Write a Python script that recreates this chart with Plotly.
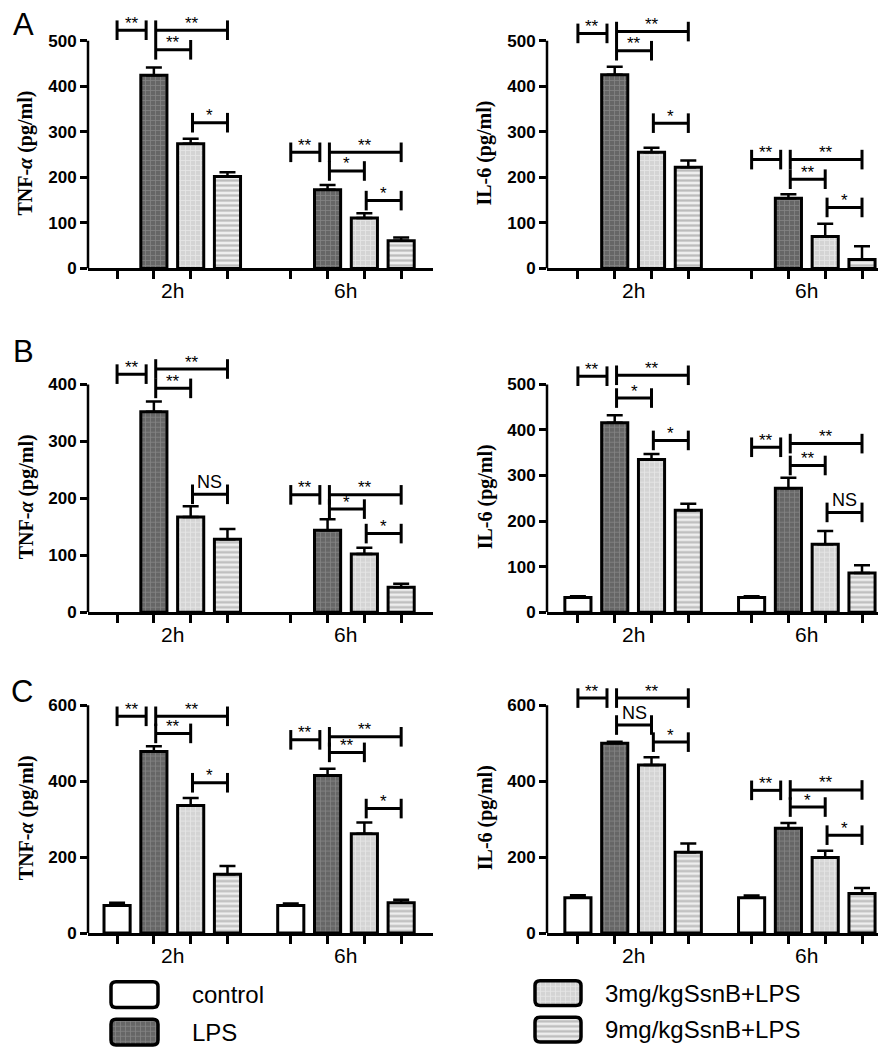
import plotly.graph_objects as go

W, H = 886, 1050

GROUPS = ["2h", "6h"]
SERIES = ["control", "LPS", "3mg/kgSsnB+LPS", "9mg/kgSsnB+LPS"]

# ---- data: [group][series] ----
A_TNF_MEAN = [[None, 424, 274, 202], [None, 173, 111, 61]]
A_TNF_ERR = [[0, 17, 11, 9], [0, 10, 10, 7]]
A_IL6_MEAN = [[None, 425, 255, 222], [None, 154, 70, 20]]
A_IL6_ERR = [[0, 18, 10, 15], [0, 9, 28, 29]]
B_TNF_MEAN = [[None, 352, 167, 128], [None, 144, 102, 44]]
B_TNF_ERR = [[0, 18, 19, 18], [0, 19, 11, 6]]
B_IL6_MEAN = [[32, 416, 335, 224], [32, 272, 149, 86]]
B_IL6_ERR = [[3, 16, 12, 14], [3, 23, 29, 17]]
C_TNF_MEAN = [[73, 478, 336, 155], [73, 415, 262, 80]]
C_TNF_ERR = [[7, 14, 20, 22], [5, 18, 29, 8]]
C_IL6_MEAN = [[93, 500, 443, 213], [93, 276, 199, 104]]
C_IL6_ERR = [[7, 4, 20, 23], [6, 14, 18, 15]]

# significance brackets: (group, from series, to series, y value, label)
A_TNF_SIG = [(0, 0, 1, 523, "**"), (0, 1, 3, 523, "**"), (0, 1, 2, 480, "**"), (0, 2, 3, 320, "*"),
             (1, 0, 1, 255, "**"), (1, 1, 3, 255, "**"), (1, 1, 2, 214, "*"), (1, 2, 3, 149, "*")]
A_IL6_SIG = [(0, 0, 1, 516, "**"), (0, 1, 3, 520, "**"), (0, 1, 2, 478, "**"), (0, 2, 3, 319, "*"),
             (1, 0, 1, 239, "**"), (1, 1, 3, 239, "**"), (1, 1, 2, 196, "**"), (1, 2, 3, 134, "*")]
B_TNF_SIG = [(0, 0, 1, 418, "**"), (0, 1, 3, 427, "**"), (0, 1, 2, 393, "**"), (0, 2, 3, 207, "NS"),
             (1, 0, 1, 206, "**"), (1, 1, 3, 206, "**"), (1, 1, 2, 181, "*"), (1, 2, 3, 138, "*")]
B_IL6_SIG = [(0, 0, 1, 518, "**"), (0, 1, 3, 520, "**"), (0, 1, 2, 470, "*"), (0, 2, 3, 377, "*"),
             (1, 0, 1, 362, "**"), (1, 1, 3, 370, "**"), (1, 1, 2, 322, "**"), (1, 2, 3, 219, "NS")]
C_TNF_SIG = [(0, 0, 1, 571, "**"), (0, 1, 3, 571, "**"), (0, 1, 2, 526, "**"), (0, 2, 3, 396, "*"),
             (1, 0, 1, 509, "**"), (1, 1, 3, 517, "**"), (1, 1, 2, 476, "**"), (1, 2, 3, 328, "*")]
C_IL6_SIG = [(0, 0, 1, 619, "**"), (0, 1, 3, 619, "**"), (0, 1, 2, 548, "NS"), (0, 2, 3, 503, "*"),
             (1, 0, 1, 376, "**"), (1, 1, 3, 377, "**"), (1, 1, 2, 332, "*"), (1, 2, 3, 258, "*")]

Y_TITLE_TNF = "TNF-<i>α</i> (pg/ml)"
Y_TITLE_IL6 = "IL-6 (pg/ml)"

# ---- styling ----
SANS = "Liberation Sans, Arial, sans-serif"
SERIF = "Liberation Serif, Times New Roman, serif"
GROUP_GAP = 4.72
BAR_W = 0.71
PX_PER_UNIT = 36.8

MARKERS = [
    dict(color="white", line=dict(color="black", width=3)),
    dict(color="#6a6a6a", line=dict(color="black", width=3),
         pattern=dict(shape="+", bgcolor="#666666", fgcolor="#a2a2a2", size=5, solidity=0.3)),
    dict(color="#dadada", line=dict(color="black", width=3),
         pattern=dict(shape="+", bgcolor="#d4d4d4", fgcolor="#f6f6f6", size=5, solidity=0.3)),
    dict(color="#dddddd", line=dict(color="black", width=3),
         pattern=dict(shape="-", bgcolor="#eeeeee", fgcolor="#8a8a8a", size=5, solidity=0.45)),
]

# panel layout in pixels: (zero px, top px), column (axis px, right px)
ROWS = [(263, 0), (610, 340), (934, 672)]
COLS = [(80, 425, -0.79), (539, 886, -0.84)]

panels = [
    dict(row=0, col=0, mean=A_TNF_MEAN, err=A_TNF_ERR, sig=A_TNF_SIG, ymax=500, step=100, title=Y_TITLE_TNF, letter="A"),
    dict(row=0, col=1, mean=A_IL6_MEAN, err=A_IL6_ERR, sig=A_IL6_SIG, ymax=500, step=100, title=Y_TITLE_IL6, letter=None),
    dict(row=1, col=0, mean=B_TNF_MEAN, err=B_TNF_ERR, sig=B_TNF_SIG, ymax=400, step=100, title=Y_TITLE_TNF, letter="B"),
    dict(row=1, col=1, mean=B_IL6_MEAN, err=B_IL6_ERR, sig=B_IL6_SIG, ymax=500, step=100, title=Y_TITLE_IL6, letter=None),
    dict(row=2, col=0, mean=C_TNF_MEAN, err=C_TNF_ERR, sig=C_TNF_SIG, ymax=600, step=200, title=Y_TITLE_TNF, letter="C"),
    dict(row=2, col=1, mean=C_IL6_MEAN, err=C_IL6_ERR, sig=C_IL6_SIG, ymax=600, step=200, title=Y_TITLE_IL6, letter=None),
]
LETTER_POS = {"A": (15, 17), "B": (15, 347), "C": (14, 690)}


def pos(g, s):
    return g * GROUP_GAP + s


fig = go.Figure()
annotations = []
shapes = []
layout = {}

for k, p in enumerate(panels, start=1):
    xa, ya = f"x{k}", f"y{k}"
    xkey = "xaxis" if k == 1 else f"xaxis{k}"
    ykey = "yaxis" if k == 1 else f"yaxis{k}"
    xref = "x" if k == 1 else xa
    yref = "y" if k == 1 else ya
    zero_px, top_px = ROWS[p["row"]]
    ax_px, right_px, xstart = COLS[p["col"]]
    ytop = p["ymax"] * (zero_px - top_px) / 230.0
    xend = xstart + (right_px - ax_px) / PX_PER_UNIT

    for s, name in enumerate(SERIES):
        fig.add_trace(go.Bar(
            x=[pos(g, s) for g in range(len(GROUPS))],
            y=[p["mean"][g][s] for g in range(len(GROUPS))],
            width=BAR_W,
            marker=MARKERS[s],
            error_y=dict(type="data", symmetric=False,
                         array=[p["err"][g][s] for g in range(len(GROUPS))],
                         arrayminus=[0] * len(GROUPS),
                         color="black", thickness=2.5, width=8),
            name=name, showlegend=False, xaxis=xref, yaxis=yref,
        ))

    for (g, i, j, yv, lab) in p["sig"]:
        xs = pos(g, i) + (0.0 if i == 0 else 0.05)
        xe = pos(g, j) - (0.21 if i == 0 else 0.0)
        fig.add_trace(go.Scatter(
            x=[xs, xe], y=[yv, yv], mode="lines+markers",
            line=dict(color="black", width=3),
            marker=dict(symbol="line-ns", size=14, line=dict(color="black", width=3)),
            showlegend=False, hoverinfo="skip", cliponaxis=False,
            xaxis=xref, yaxis=yref,
        ))
        is_ns = lab == "NS"
        annotations.append(dict(
            x=(xs + xe) / 2, y=yv, xref=xref, yref=yref, text=lab, showarrow=False,
            yanchor="middle", yshift=12 if is_ns else 7,
            font=dict(family=SANS, size=18 if is_ns else 17, color="black"),
        ))

    tickpos = [pos(g, s) for g in range(len(GROUPS)) for s in range(len(SERIES))]
    layout[xkey] = dict(
        domain=[ax_px / W, right_px / W], range=[xstart, xend], anchor=yref,
        showline=True, linecolor="black", linewidth=2.5, mirror=False,
        ticks="outside", tickvals=tickpos, ticktext=[""] * len(tickpos),
        ticklen=8, tickwidth=2.5, tickcolor="black",
        showgrid=False, zeroline=False, fixedrange=True,
    )
    layout[ykey] = dict(
        domain=[1 - zero_px / H, 1 - top_px / H], range=[0, ytop], anchor=xref,
        showline=False, ticks="outside", ticklen=7, tickwidth=2.5, tickcolor="black",
        tickvals=list(range(0, p["ymax"] + 1, p["step"])),
        tickfont=dict(family=SANS, size=17, color="black", weight="bold"),
        showgrid=False, zeroline=False, fixedrange=True,
    )
    shapes.append(dict(type="line", xref=f"{xref} domain", yref=yref, x0=0, x1=0,
                       y0=0, y1=p["ymax"], line=dict(color="black", width=2.5)))

    for g, gname in enumerate(GROUPS):
        annotations.append(dict(
            x=pos(g, 1.5), y=0, xref=xref, yref=f"{yref} domain", text=gname,
            showarrow=False, yanchor="middle", yshift=-22,
            font=dict(family=SANS, size=21, color="black"),
        ))

    annotations.append(dict(
        x=(ax_px - 62) / W, y=1 - (zero_px - 116) / H, xref="paper", yref="paper",
        text=p["title"], textangle=-90, showarrow=False,
        xanchor="center", yanchor="middle",
        font=dict(family=SERIF, size=20, color="black", weight="bold"),
    ))
    if p["letter"]:
        lx, ly = LETTER_POS[p["letter"]]
        annotations.append(dict(
            x=lx / W, y=1 - ly / H, xref="paper", yref="paper", text=p["letter"],
            showarrow=False, xanchor="center", yanchor="middle",
            font=dict(family=SANS, size=31, color="black"),
        ))

# ---- legend (drawn in an auxiliary pixel-space axis) ----
LEG_TOP = 965
LEG_BOXES = [(103, 983, 150, 1009), (103, 1021, 150, 1047), (527, 982, 573, 1007), (527, 1019, 573, 1044)]
LEG_TEXT_X = [182, 182, 595, 595]
for s, name in enumerate(SERIES):
    x0, y0, x1, y1 = LEG_BOXES[s]
    mk = dict(MARKERS[s])
    mk["line"] = dict(width=0)
    fig.add_trace(go.Bar(
        x=[(x0 + x1) / 2], y=[y1 - y0 - 2], base=[y0 + 1], width=[x1 - x0 - 2],
        marker=mk, showlegend=False, hoverinfo="skip", xaxis="x7", yaxis="y7",
    ))
    r = 5
    path = (f"M {x0 + r},{y0} L {x1 - r},{y0} Q {x1},{y0} {x1},{y0 + r} "
            f"L {x1},{y1 - r} Q {x1},{y1} {x1 - r},{y1} L {x0 + r},{y1} "
            f"Q {x0},{y1} {x0},{y1 - r} L {x0},{y0 + r} Q {x0},{y0} {x0 + r},{y0} Z")
    shapes.append(dict(type="path", path=path, xref="x7", yref="y7",
                       line=dict(color="black", width=3.5)))
    annotations.append(dict(
        x=LEG_TEXT_X[s], y=(y0 + y1) / 2, xref="x7", yref="y7", text=name,
        showarrow=False, xanchor="left", yanchor="middle",
        font=dict(family=SANS, size=24, color="black"),
    ))

layout["xaxis7"] = dict(domain=[0, 1], range=[0, W], visible=False, fixedrange=True, anchor="y7")
layout["yaxis7"] = dict(domain=[0, (H - LEG_TOP) / H], range=[H, LEG_TOP], visible=False,
                        fixedrange=True, anchor="x7")

fig.update_layout(
    width=W, height=H, margin=dict(l=0, r=0, t=0, b=0),
    paper_bgcolor="white", plot_bgcolor="white", barmode="overlay",
    annotations=annotations, shapes=shapes, **layout,
)

fig.write_html("out.html")
